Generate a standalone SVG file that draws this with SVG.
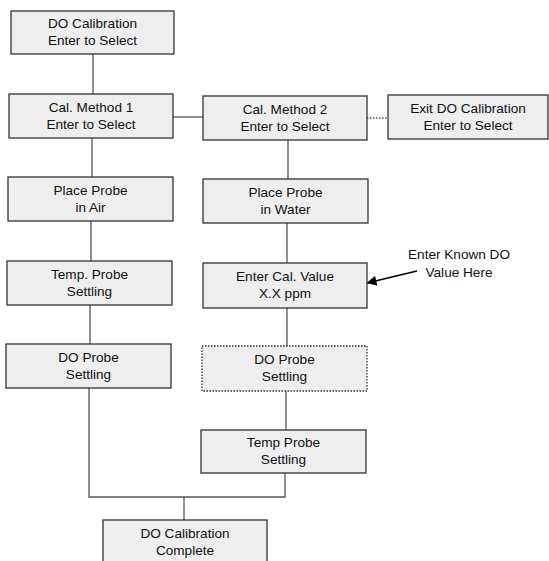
<svg xmlns="http://www.w3.org/2000/svg" width="549" height="561" viewBox="0 0 549 561">
<style>
.box{fill:#eeeeee;stroke:#333333;stroke-width:1.3}
.dot{stroke-dasharray:1.5,1.5}
.t{font-family:"Liberation Sans",Arial,sans-serif;font-size:13.6px;fill:#111111;text-anchor:middle}
.c{fill:none;stroke:#555555;stroke-width:1.3}
</style>
<defs>
<marker id="ah" viewBox="0 0 10 10" refX="9.5" refY="5" markerWidth="14" markerHeight="10" markerUnits="userSpaceOnUse" orient="auto">
<path d="M0,0 L10,5 L0,10 Z" fill="#000"/>
</marker>
</defs>
<rect width="549" height="561" fill="#ffffff"/>
<g id="connectors">
<line class="c" x1="93" y1="54" x2="93" y2="94"/>
<line class="c" x1="173" y1="117" x2="203" y2="117"/>
<line class="c dot" x1="367" y1="118" x2="388" y2="118"/>
<line class="c" x1="92" y1="138" x2="92" y2="177"/>
<line class="c" x1="288" y1="140" x2="288" y2="179"/>
<line class="c" x1="91" y1="221" x2="91" y2="261"/>
<line class="c" x1="287" y1="223" x2="287" y2="263"/>
<line class="c" x1="90" y1="305" x2="90" y2="344"/>
<line class="c" x1="287" y1="308" x2="287" y2="346"/>
<line class="c" x1="286" y1="391" x2="286" y2="430"/>
<polyline class="c" points="89,388 89,497 285,497 285,473"/>
<line class="c" x1="184" y1="497" x2="184" y2="520"/>
<line x1="417" y1="271" x2="367" y2="283" stroke="#000" stroke-width="1.3" marker-end="url(#ah)"/>
</g>
<g id="n1"><rect class="box" x="11" y="11" width="163" height="43"/><text class="t" x="92.5" y="28">DO Calibration</text><text class="t" x="92.5" y="45">Enter to Select</text></g>
<g id="n2"><rect class="box" x="9" y="94" width="164" height="44"/><text class="t" x="91" y="112">Cal. Method 1</text><text class="t" x="91" y="129">Enter to Select</text></g>
<g id="n3"><rect class="box" x="203" y="96" width="164" height="44"/><text class="t" x="285" y="114">Cal. Method 2</text><text class="t" x="285" y="131">Enter to Select</text></g>
<g id="n4"><rect class="box" x="388" y="95" width="160" height="44"/><text class="t" x="468" y="113">Exit DO Calibration</text><text class="t" x="468" y="130">Enter to Select</text></g>
<g id="n5"><rect class="box" x="8" y="177" width="165" height="44"/><text class="t" x="90.5" y="195">Place Probe</text><text class="t" x="90.5" y="212">in Air</text></g>
<g id="n6"><rect class="box" x="203" y="179" width="165" height="44"/><text class="t" x="285.5" y="197">Place Probe</text><text class="t" x="285.5" y="214">in Water</text></g>
<g id="n7"><rect class="box" x="7" y="261" width="165" height="44"/><text class="t" x="89.5" y="279">Temp. Probe</text><text class="t" x="89.5" y="296">Settling</text></g>
<g id="n8"><rect class="box" x="203" y="263" width="164" height="45"/><text class="t" x="285" y="281">Enter Cal. Value</text><text class="t" x="285" y="298">X.X ppm</text></g>
<g id="n9"><rect class="box" x="6" y="344" width="165" height="44"/><text class="t" x="88.5" y="362">DO Probe</text><text class="t" x="88.5" y="379">Settling</text></g>
<g id="n10"><rect class="box dot" x="202" y="346" width="165" height="45"/><text class="t" x="284.5" y="364">DO Probe</text><text class="t" x="284.5" y="381">Settling</text></g>
<g id="n11"><rect class="box" x="201" y="430" width="165" height="43"/><text class="t" x="283.5" y="447">Temp Probe</text><text class="t" x="283.5" y="464">Settling</text></g>
<g id="n12"><rect class="box" x="103" y="520" width="164" height="50"/><text class="t" x="185" y="538">DO Calibration</text><text class="t" x="185" y="555">Complete</text></g>
<g id="note"><text class="t" x="459" y="259">Enter Known DO</text><text class="t" x="459" y="277">Value Here</text></g>
</svg>
